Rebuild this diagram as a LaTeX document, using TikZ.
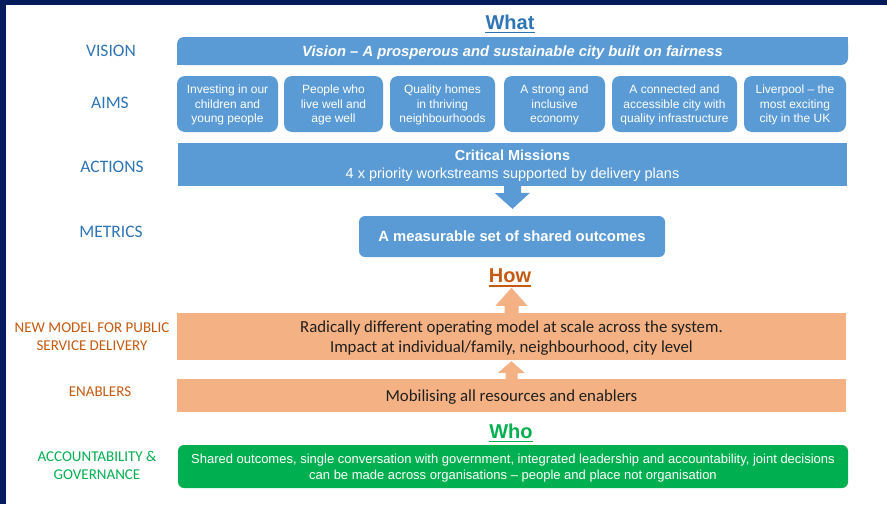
\documentclass[tikz,border=0pt]{standalone}
\usepackage{fontspec}
\setmainfont{Liberation Sans}
\newfontfamily\calibri{Carlito}
\usetikzlibrary{positioning, calc}
\definecolor{boxblue}{HTML}{5B9BD5}
\definecolor{labblue}{HTML}{2E75B6}
\definecolor{boxorange}{HTML}{F4B183}
\definecolor{laborange}{HTML}{C55A11}
\definecolor{boxgreen}{HTML}{00B050}
\definecolor{framenavy}{HTML}{041B5E}
\definecolor{darktext}{HTML}{1F1F1F}

\begin{document}
\begin{tikzpicture}[x=1pt, y=1pt,
    bluebox/.style={fill=boxblue, text=white, align=center, inner sep=0pt, text depth=0pt},
    aimbox/.style={bluebox, rounded corners=8pt, minimum height=56pt, font=\fontsize{12}{14.5}\selectfont},
    orangebox/.style={fill=boxorange, text=darktext, align=center, inner sep=0pt, text depth=0pt, minimum width=669pt, font=\calibri\fontsize{16.8}{20}\selectfont},
    rowlabel/.style={align=center, text=labblue, font=\calibri\fontsize{17.5}{19}\selectfont},
    heading/.style={inner sep=0pt, font=\bfseries\fontsize{20}{24}\selectfont}]
  \fill[white] (0,0) rectangle (887,-504);
  \useasboundingbox (0,0) rectangle (887,-504);
  \fill[framenavy] (0,0) rectangle (887,-5);
  \fill[framenavy] (0,0) rectangle (6,-504);

  % what
  \node[heading, text=labblue] (what) at (510,-22) {What};
  \draw[labblue, line width=1.6pt] ([yshift=-3.5pt]what.base west) -- ([yshift=-3.5pt]what.base east);

  \node[bluebox, rounded corners=7pt, minimum width=671pt, minimum height=28pt, font=\bfseries\itshape\fontsize{14.8}{17}\selectfont] (vision) at (512.5,-51) {Vision – A prosperous and sustainable city built on fairness};
  \fill[boxblue] (vision.north east) rectangle ++(-8,-8);
  \fill[boxblue] (vision.south west) rectangle ++(8,8);

  \node[aimbox, minimum width=101pt] (aim1) at (227.5,-104) {Investing in our\\children and\\young people};
  \node[aimbox, minimum width=99pt] (aim2) at (333.5,-104) {People who\\live well and\\age well};
  \node[aimbox, minimum width=105pt] (aim3) at (442.5,-104) {Quality homes\\in thriving\\neighbourhoods};
  \node[aimbox, minimum width=101pt] (aim4) at (554.5,-104) {A strong and\\inclusive\\economy};
  \node[aimbox, minimum width=125pt] (aim5) at (674.5,-104) {A connected and\\accessible city with\\quality infrastructure};
  \node[aimbox, minimum width=102pt] (aim6) at (795,-104) {Liverpool – the\\most exciting\\city in the UK};

  \node[bluebox, minimum width=669pt, minimum height=43pt, font=\fontsize{14.5}{18}\selectfont] (actions) at (512.5,-164.5) {\textbf{Critical Missions}\\4 x priority workstreams supported by delivery plans};
  \node[bluebox, rounded corners=6pt, minimum width=306pt, minimum height=41pt, font=\bfseries\fontsize{14.8}{17}\selectfont] (metrics) at (512,-236.5) {A measurable set of shared outcomes};

  \coordinate (bluetip) at ($(metrics.north)+(0.5,7)$);
  \fill[boxblue] ($(actions.south)+(-8.5,1)$) -- ++(0,-8) -- ++(-9,0) -- (bluetip) -- ++(17.5,16) -- ++(-9,0) -- ++(0,8) -- cycle;

  \node[rowlabel] (lvision) at (111,-51) {VISION};
  \node[rowlabel] (laims) at (110,-103) {AIMS};
  \node[rowlabel] (lactions) at (112,-167) {ACTIONS};
  \node[rowlabel] (lmetrics) at (111,-232) {METRICS};

  % how
  \node[heading, text=laborange] (how) at (510,-276) {How};
  \draw[laborange, line width=1.6pt] ([yshift=-3.5pt]how.base west) -- ([yshift=-3.5pt]how.base east);

  \node[orangebox, minimum height=47pt] (model) at (511.5,-336.5) {Radically different operating model at scale across the system.\\Impact at individual/family, neighbourhood, city level};
  \node[orangebox, minimum height=33pt] (enablers) at (511.5,-395.5) {Mobilising all resources and enablers};

  \coordinate (uptip) at ($(model.north)+(0,25)$);
  \fill[boxorange] ($(model.north)+(-7,-1)$) -- ++(0,8) -- ++(-9,0) -- (uptip) -- ++(16,-18) -- ++(-9,0) -- ++(0,-8) -- cycle;
  \coordinate (uptipb) at ($(model.south)+(0,-1)$);
  \fill[boxorange] ($(enablers.north)+(-6,-1)$) -- ++(0,7) -- ++(-7.5,0) -- (uptipb) -- ++(13.5,-12) -- ++(-7.5,0) -- ++(0,-7) -- cycle;

  \node[rowlabel, text=laborange, font=\calibri\fontsize{15}{18}\selectfont] (lmodel) at (92,-337) {NEW MODEL FOR PUBLIC\\SERVICE DELIVERY};
  \node[rowlabel, text=laborange, font=\calibri\fontsize{15}{18}\selectfont] (lenablers) at (100,-392) {ENABLERS};

  % who
  \node[heading, text=boxgreen] (who) at (511,-431) {Who};
  \draw[boxgreen, line width=1.6pt] ([yshift=-3.5pt]who.base west) -- ([yshift=-3.5pt]who.base east);

  \node[bluebox, fill=boxgreen, rounded corners=6pt, minimum width=670pt, minimum height=43pt, font=\fontsize{13}{16}\selectfont] (govern) at (513,-466.5) {Shared outcomes, single conversation with government, integrated leadership and accountability, joint decisions\\can be made across organisations – people and place not organisation};
  \node[rowlabel, text=boxgreen, font=\calibri\fontsize{15}{18}\selectfont] (lgovern) at (97,-465) {ACCOUNTABILITY \&\\GOVERNANCE};
\end{tikzpicture}
\end{document}
